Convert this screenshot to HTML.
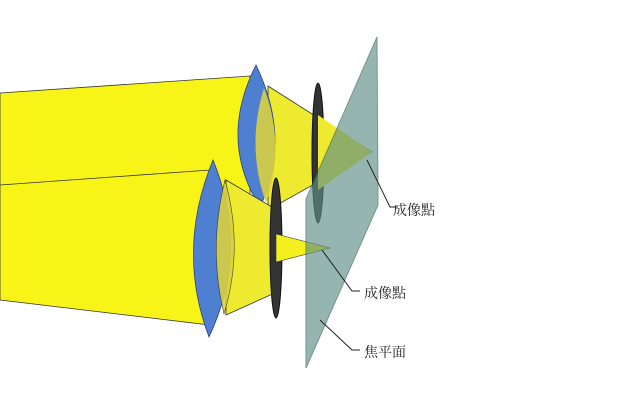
<!DOCTYPE html>
<html><head><meta charset="utf-8"><style>
html,body{margin:0;padding:0;background:#fff;width:640px;height:418px;overflow:hidden}
text{font-family:"Liberation Serif","Noto Serif CJK SC","Noto Sans CJK TC",serif;font-size:14px;fill:#222}
</style></head><body>
<svg width="640" height="418" viewBox="0 0 640 418" xmlns="http://www.w3.org/2000/svg">
<rect width="640" height="418" fill="#fff"/>
<!-- upper beam cylinder -->
<polygon points="0,93 250,76 250,207 0,195" fill="#f8f418" stroke="#333" stroke-width="0.8"/>
<!-- upper cone -->
<polygon points="268,86 372,152 268,210" fill="#eeea30" stroke="#333" stroke-width="0.8"/>
<!-- upper lens -->
<path d="M256,65 Q218,140 260,207 Q292,140 256,65Z" fill="#4f7fd0" stroke="#2a3f80" stroke-width="0.8"/>
<path d="M264,88 Q246,146 266,203 Q286,146 264,88Z" fill="#d8d040" opacity="0.9"/>
<!-- upper aperture -->
<ellipse cx="318" cy="153" rx="6" ry="70" fill="#333" stroke="#111"/>
<polygon points="318,115 372,152 318,190" fill="#eeea30"/>
<!-- lower beam cylinder -->
<polygon points="0,185 210,170 210,325 0,300" fill="#f8f418" stroke="#333" stroke-width="0.8"/>
<!-- lower cone -->
<polygon points="226,180 277,210 277,292 226,315" fill="#eeea30" stroke="#333" stroke-width="0.8"/>
<!-- lower lens -->
<path d="M213,160 Q176,250 209,337 Q250,250 213,160Z" fill="#4f7fd0" stroke="#2a3f80" stroke-width="0.8"/>
<path d="M225,180 Q208,248 224,314 Q244,248 225,180Z" fill="#d8d040" opacity="0.9" stroke="#333" stroke-width="0.6"/>
<!-- lower aperture -->
<ellipse cx="276" cy="248" rx="6" ry="70" fill="#333" stroke="#111"/>
<polygon points="276,234 330,248 276,262" fill="#f4f020" stroke="#333" stroke-width="0.6"/>
<!-- focal plane -->
<polygon points="377,37 378,205 306,368 306,199" fill="#5f8f86" opacity="0.65" stroke="#2f5a50" stroke-width="1"/>
<!-- leaders -->
<polyline points="367,160 390,207 398,207" fill="none" stroke="#222" stroke-width="1"/>
<polyline points="322,250 352,291 360,291" fill="none" stroke="#222" stroke-width="1"/>
<polyline points="320,320 352,350 360,350" fill="none" stroke="#222" stroke-width="1"/>
<text x="393" y="215">成像點</text>
<text x="364" y="298">成像點</text>
<text x="364" y="357">焦平面</text>
</svg>
</body></html>
